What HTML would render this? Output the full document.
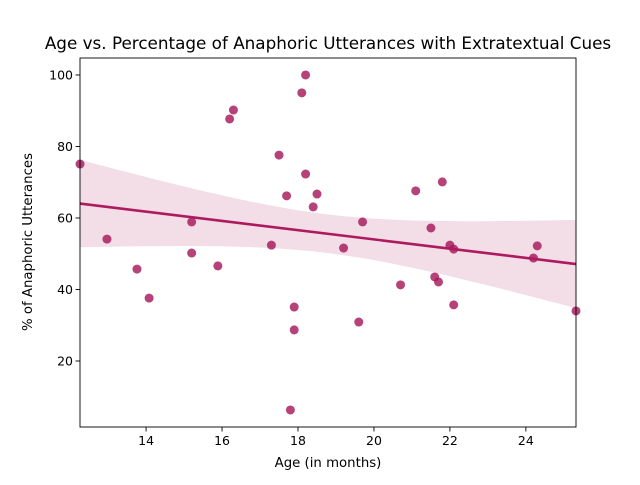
<!DOCTYPE html>
<html><head><meta charset="utf-8"><style>
body{margin:0;background:#fff;}
svg{font-family:"DejaVu Sans","Liberation Sans",sans-serif;}
</style></head><body>
<svg id="chart" width="640" height="480" viewBox="0 0 640 480">
<rect width="640" height="480" fill="#fff"/>
<text x="328" y="49" text-anchor="middle" font-size="16.8" fill="#000">Age vs. Percentage of Anaphoric Utterances with Extratextual Cues</text>
<g id="plot"></g>
<text x="328" y="467" text-anchor="middle" font-size="13.3">Age (in months)</text>
<text x="32" y="242" text-anchor="middle" font-size="13.3" transform="rotate(-90 32 242)">% of Anaphoric Utterances</text>
</svg>
<script>
const ages = [12.26,12.97,13.76,14.08,15.2,15.2,15.89,16.2,16.3,17.3,17.5,17.7,17.8,17.9,17.9,18.1,18.2,18.2,18.4,18.5,19.2,19.6,19.7,20.7,21.1,21.5,21.6,21.7,21.8,22.0,22.1,22.1,24.2,24.3,25.32];
const percents = [75.1,54.1,45.7,37.6,58.9,50.2,46.6,87.7,90.2,52.4,77.6,66.2,6.3,35.1,28.7,95,100,72.3,63.1,66.7,51.6,30.9,58.9,41.3,67.6,57.2,43.5,42.1,70.1,52.4,51.3,35.7,48.8,52.2,34];
const xTicks = [14,16,18,20,22,24];
const yTicks = [20,40,60,80,100];
const L=80,R=576,T=58,B=427;
const xMin=12.26,xMax=25.32,yMin=1.54,yMax=104.75;
const X=v=>L+(v-xMin)/(xMax-xMin)*(R-L);
const Y=v=>B-(v-yMin)/(yMax-yMin)*(B-T);
const NS="http://www.w3.org/2000/svg";
const g=document.getElementById('plot');
function mk(t,a){const e=document.createElementNS(NS,t);for(const k in a)e.setAttribute(k,a[k]);g.appendChild(e);return e;}
const n=ages.length;
const mx=ages.reduce((a,b)=>a+b,0)/n, my=percents.reduce((a,b)=>a+b,0)/n;
let sxx=0,sxy=0;for(let i=0;i<n;i++){sxx+=(ages[i]-mx)**2;sxy+=(ages[i]-mx)*(percents[i]-my);}
const slope=sxy/sxx, icpt=my-slope*mx;
let sse=0;for(let i=0;i<n;i++){sse+=(percents[i]-icpt-slope*ages[i])**2;}
const s=Math.sqrt(sse/(n-2)), tval=1.6;
const up=[],lo=[];
for(let k=0;k<=60;k++){const x=xMin+(xMax-xMin)*k/60;const yh=icpt+slope*x;const se=s*Math.sqrt(1/n+(x-mx)**2/sxx);
up.push(X(x).toFixed(1)+','+Y(yh+tval*se).toFixed(1));lo.unshift(X(x).toFixed(1)+','+Y(yh-tval*se).toFixed(1));}
const clip=mk('clipPath',{id:'c'});const cr=document.createElementNS(NS,'rect');cr.setAttribute('x',L);cr.setAttribute('y',T);cr.setAttribute('width',R-L);cr.setAttribute('height',B-T);clip.appendChild(cr);
const band=mk('polygon',{points:up.concat(lo).join(' '),fill:'#b0185f','fill-opacity':0.15,stroke:'none','clip-path':'url(#c)'});


ages.forEach((a,i)=>{const c=mk('circle',{cx:X(a),cy:Y(percents[i]),r:4.5,fill:'#a5195c','fill-opacity':0.82});

});
const line=mk('line',{x1:X(xMin),y1:Y(icpt+slope*xMin),x2:X(xMax),y2:Y(icpt+slope*xMax),stroke:'#ad1a5f','stroke-width':2.6});


const fr=mk('rect',{x:L,y:T,width:R-L,height:B-T,fill:'none',stroke:'#000','stroke-width':0.9});


xTicks.forEach(v=>{const tk=mk('line',{x1:X(v),x2:X(v),y1:B,y2:B+4.5,stroke:'#000','stroke-width':0.9});


const t=mk('text',{x:X(v),y:B+18,'text-anchor':'middle','font-size':12.5});t.textContent=v;

});
yTicks.forEach(v=>{const tk=mk('line',{x1:L-4.5,x2:L,y1:Y(v),y2:Y(v),stroke:'#000','stroke-width':0.9});


const t=mk('text',{x:L-7,y:Y(v)+4.5,'text-anchor':'end','font-size':12.5});t.textContent=v;

});
</script>
</body></html>
